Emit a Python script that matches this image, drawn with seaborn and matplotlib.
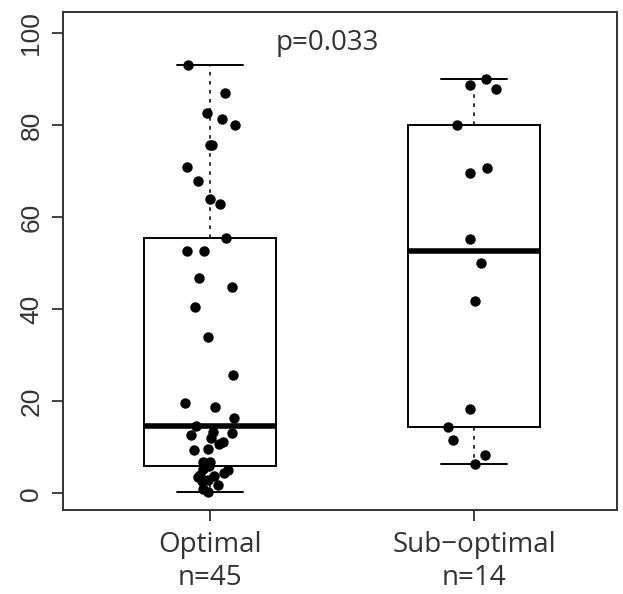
import numpy as np
import pandas as pd
import matplotlib
matplotlib.use('Agg')
import matplotlib.pyplot as plt
import seaborn as sns

groups = ['Optimal', 'Sub\u2212optimal']

optimal = [93.0, 87.0, 82.7, 81.3, 80.0, 75.7, 75.7, 70.9, 67.9, 63.9, 62.8, 55.5,
           52.7, 52.7, 46.8, 44.9, 40.5, 34.0, 25.7, 19.6, 18.8, 16.4, 14.6,
           13.3, 13.0, 12.6, 11.9, 11.2, 10.7, 9.7, 9.5, 6.8, 6.8, 5.9,
           5.3, 5.0, 4.3, 4.0, 3.8, 3.5, 2.8, 2.6, 1.7, 1.0, 0.3]
sub_optimal = [90.1, 88.8, 87.8, 80.0, 70.6, 69.6, 55.2, 50.1, 41.8, 18.3, 14.4,
               11.5, 8.4, 6.4]

p_label = 'p=0.033'
yticks = [0, 20, 40, 60, 80, 100]


def fivenum(v):
    # Tukey five number summary, as R's boxplot uses
    v = np.sort(np.asarray(v, dtype=float))
    n = len(v)
    n4 = np.floor((n + 3) / 2) / 2
    d = np.array([1, n4, (n + 1) / 2, n + 1 - n4, n]) - 1
    return 0.5 * (v[np.floor(d).astype(int)] + v[np.ceil(d).astype(int)])


def box_stats(v):
    lo, q1, med, q3, hi = fivenum(v)
    iqr = q3 - q1
    arr = np.asarray(v)
    wlo = arr[arr >= q1 - 1.5 * iqr].min()
    whi = arr[arr <= q3 + 1.5 * iqr].max()
    return dict(med=med, q1=q1, q3=q3, whislo=wlo, whishi=whi, fliers=[])


df = pd.DataFrame({
    'group': [groups[0]] * len(optimal) + [groups[1]] * len(sub_optimal),
    'value': optimal + sub_optimal,
})

sns.set_style('white')
plt.rcParams['font.family'] = ['Open Sans', 'DejaVu Sans']

fig = plt.figure(figsize=(6.23, 5.94), dpi=100)
ax = fig.add_axes([0.101, 0.141, 0.889, 0.839])

stats = [box_stats(optimal), box_stats(sub_optimal)]
ax.bxp(stats, positions=[0, 1], widths=0.5, capwidths=0.25, showfliers=False,
       patch_artist=True,
       boxprops=dict(facecolor='white', edgecolor='black', linewidth=1.4),
       medianprops=dict(color='black', linewidth=4),
       whiskerprops=dict(color='#222222', linewidth=1.3, linestyle=(0, (2, 3))),
       capprops=dict(color='black', linewidth=1.4))

np.random.seed(7)
sns.stripplot(data=df, x='group', y='value', order=groups, color='black',
              size=7.5, jitter=0.1, linewidth=0, ax=ax, zorder=3)

ax.set_xlim(-0.557, 1.54)
ax.set_ylim(-3.7, 104.6)
ax.set_xlabel('')
ax.set_ylabel('')

counts = df.groupby('group')['value'].size()
ax.set_xticks([0, 1])
ax.set_xticklabels([f'{g}\nn={counts[g]}' for g in groups], fontsize=20,
                   color='#333333', linespacing=1.25)
ax.set_yticks(yticks)
ax.set_yticklabels([str(t) for t in yticks], fontsize=19, rotation=90,
                   va='center', family='Liberation Sans', color='#333333')
ax.tick_params(axis='both', direction='out', length=8, width=1.3, color='#333333')
ax.tick_params(axis='y', pad=6, left=True)
ax.tick_params(axis='x', pad=7, bottom=True)

for side in ax.spines.values():
    side.set_visible(True)
    side.set_color('#333333')
    side.set_linewidth(1.4)

ax.text(0.443, 97.8, p_label, ha='center', va='center', fontsize=20, color='#333333')

fig.savefig('out.png', dpi=100)
